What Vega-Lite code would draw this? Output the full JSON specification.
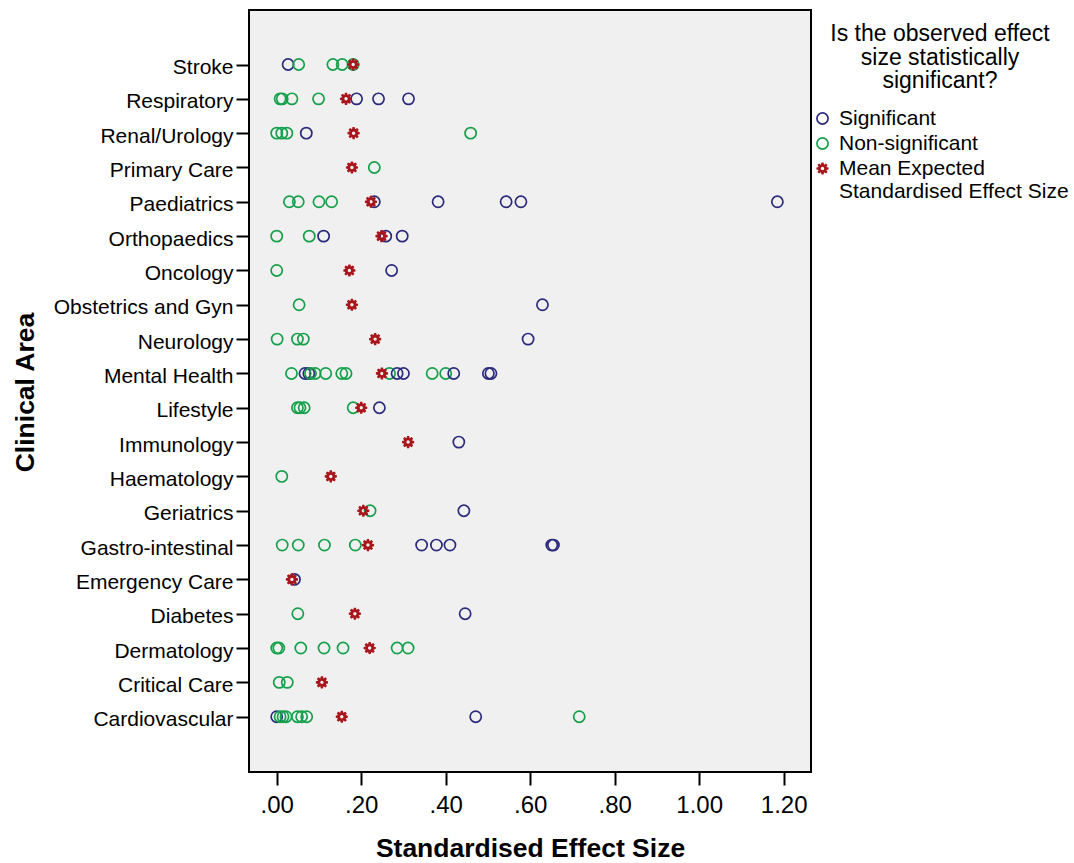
{
  "$schema": "https://vega.github.io/schema/vega-lite/v6.json",
  "width": 562,
  "height": 762,
  "autosize": "none",
  "padding": {"left": 249, "top": 10, "right": 263, "bottom": 91},
  "background": "white",
  "config": {
    "font": "Liberation Sans",
    "view": {"stroke": "#000000", "strokeWidth": 2, "fill": "#f0f0f0"},
    "axis": {
      "domain": false,
      "grid": false,
      "tickColor": "#000000",
      "tickWidth": 2,
      "tickSize": 13,
      "labelColor": "#000000",
      "labelFont": "Liberation Sans",
      "labelFontSize": 21,
      "titleFont": "Liberation Sans",
      "titleFontSize": 26.5,
      "titleFontWeight": "bold",
      "titleColor": "#000000"
    },
    "legend": {
      "titleFont": "Liberation Sans",
      "labelFont": "Liberation Sans"
    }
  },
  "data": {
    "values": [
      {"area": "Stroke", "effect": 0.027, "group": "Significant"},
      {"area": "Stroke", "effect": 0.052, "group": "Non-significant"},
      {"area": "Stroke", "effect": 0.133, "group": "Non-significant"},
      {"area": "Stroke", "effect": 0.155, "group": "Non-significant"},
      {"area": "Stroke", "effect": 0.181, "group": "Non-significant"},
      {"area": "Respiratory", "effect": 0.008, "group": "Non-significant"},
      {"area": "Respiratory", "effect": 0.013, "group": "Non-significant"},
      {"area": "Respiratory", "effect": 0.036, "group": "Non-significant"},
      {"area": "Respiratory", "effect": 0.099, "group": "Non-significant"},
      {"area": "Respiratory", "effect": 0.189, "group": "Significant"},
      {"area": "Respiratory", "effect": 0.241, "group": "Significant"},
      {"area": "Respiratory", "effect": 0.312, "group": "Significant"},
      {"area": "Renal/Urology", "effect": 0.0, "group": "Non-significant"},
      {"area": "Renal/Urology", "effect": 0.012, "group": "Non-significant"},
      {"area": "Renal/Urology", "effect": 0.024, "group": "Non-significant"},
      {"area": "Renal/Urology", "effect": 0.07, "group": "Significant"},
      {"area": "Renal/Urology", "effect": 0.459, "group": "Non-significant"},
      {"area": "Primary Care", "effect": 0.231, "group": "Non-significant"},
      {"area": "Paediatrics", "effect": 0.03, "group": "Non-significant"},
      {"area": "Paediatrics", "effect": 0.051, "group": "Non-significant"},
      {"area": "Paediatrics", "effect": 0.1, "group": "Non-significant"},
      {"area": "Paediatrics", "effect": 0.13, "group": "Non-significant"},
      {"area": "Paediatrics", "effect": 0.231, "group": "Significant"},
      {"area": "Paediatrics", "effect": 0.382, "group": "Significant"},
      {"area": "Paediatrics", "effect": 0.543, "group": "Significant"},
      {"area": "Paediatrics", "effect": 0.578, "group": "Significant"},
      {"area": "Paediatrics", "effect": 1.185, "group": "Significant"},
      {"area": "Orthopaedics", "effect": 0.0, "group": "Non-significant"},
      {"area": "Orthopaedics", "effect": 0.077, "group": "Non-significant"},
      {"area": "Orthopaedics", "effect": 0.111, "group": "Significant"},
      {"area": "Orthopaedics", "effect": 0.258, "group": "Significant"},
      {"area": "Orthopaedics", "effect": 0.297, "group": "Significant"},
      {"area": "Oncology", "effect": 0.0, "group": "Non-significant"},
      {"area": "Oncology", "effect": 0.272, "group": "Significant"},
      {"area": "Obstetrics and Gyn", "effect": 0.053, "group": "Non-significant"},
      {"area": "Obstetrics and Gyn", "effect": 0.629, "group": "Significant"},
      {"area": "Neurology", "effect": 0.001, "group": "Non-significant"},
      {"area": "Neurology", "effect": 0.049, "group": "Non-significant"},
      {"area": "Neurology", "effect": 0.063, "group": "Non-significant"},
      {"area": "Neurology", "effect": 0.595, "group": "Significant"},
      {"area": "Mental Health", "effect": 0.035, "group": "Non-significant"},
      {"area": "Mental Health", "effect": 0.067, "group": "Significant"},
      {"area": "Mental Health", "effect": 0.076, "group": "Significant"},
      {"area": "Mental Health", "effect": 0.08, "group": "Non-significant"},
      {"area": "Mental Health", "effect": 0.091, "group": "Non-significant"},
      {"area": "Mental Health", "effect": 0.116, "group": "Non-significant"},
      {"area": "Mental Health", "effect": 0.154, "group": "Non-significant"},
      {"area": "Mental Health", "effect": 0.164, "group": "Non-significant"},
      {"area": "Mental Health", "effect": 0.267, "group": "Non-significant"},
      {"area": "Mental Health", "effect": 0.285, "group": "Significant"},
      {"area": "Mental Health", "effect": 0.3, "group": "Significant"},
      {"area": "Mental Health", "effect": 0.368, "group": "Non-significant"},
      {"area": "Mental Health", "effect": 0.4, "group": "Non-significant"},
      {"area": "Mental Health", "effect": 0.419, "group": "Significant"},
      {"area": "Mental Health", "effect": 0.501, "group": "Significant"},
      {"area": "Mental Health", "effect": 0.507, "group": "Significant"},
      {"area": "Lifestyle", "effect": 0.049, "group": "Non-significant"},
      {"area": "Lifestyle", "effect": 0.055, "group": "Non-significant"},
      {"area": "Lifestyle", "effect": 0.065, "group": "Non-significant"},
      {"area": "Lifestyle", "effect": 0.181, "group": "Non-significant"},
      {"area": "Lifestyle", "effect": 0.243, "group": "Significant"},
      {"area": "Immunology", "effect": 0.431, "group": "Significant"},
      {"area": "Haematology", "effect": 0.012, "group": "Non-significant"},
      {"area": "Geriatrics", "effect": 0.221, "group": "Non-significant"},
      {"area": "Geriatrics", "effect": 0.443, "group": "Significant"},
      {"area": "Gastro-intestinal", "effect": 0.013, "group": "Non-significant"},
      {"area": "Gastro-intestinal", "effect": 0.051, "group": "Non-significant"},
      {"area": "Gastro-intestinal", "effect": 0.113, "group": "Non-significant"},
      {"area": "Gastro-intestinal", "effect": 0.186, "group": "Non-significant"},
      {"area": "Gastro-intestinal", "effect": 0.343, "group": "Significant"},
      {"area": "Gastro-intestinal", "effect": 0.378, "group": "Significant"},
      {"area": "Gastro-intestinal", "effect": 0.41, "group": "Significant"},
      {"area": "Gastro-intestinal", "effect": 0.651, "group": "Significant"},
      {"area": "Gastro-intestinal", "effect": 0.655, "group": "Significant"},
      {"area": "Emergency Care", "effect": 0.042, "group": "Significant"},
      {"area": "Diabetes", "effect": 0.05, "group": "Non-significant"},
      {"area": "Diabetes", "effect": 0.446, "group": "Significant"},
      {"area": "Dermatology", "effect": 0.0, "group": "Non-significant"},
      {"area": "Dermatology", "effect": 0.005, "group": "Non-significant"},
      {"area": "Dermatology", "effect": 0.057, "group": "Non-significant"},
      {"area": "Dermatology", "effect": 0.112, "group": "Non-significant"},
      {"area": "Dermatology", "effect": 0.157, "group": "Non-significant"},
      {"area": "Dermatology", "effect": 0.285, "group": "Non-significant"},
      {"area": "Dermatology", "effect": 0.311, "group": "Non-significant"},
      {"area": "Critical Care", "effect": 0.006, "group": "Non-significant"},
      {"area": "Critical Care", "effect": 0.025, "group": "Non-significant"},
      {"area": "Cardiovascular", "effect": 0.0, "group": "Significant"},
      {"area": "Cardiovascular", "effect": 0.008, "group": "Non-significant"},
      {"area": "Cardiovascular", "effect": 0.015, "group": "Non-significant"},
      {"area": "Cardiovascular", "effect": 0.022, "group": "Non-significant"},
      {"area": "Cardiovascular", "effect": 0.049, "group": "Non-significant"},
      {"area": "Cardiovascular", "effect": 0.059, "group": "Non-significant"},
      {"area": "Cardiovascular", "effect": 0.071, "group": "Non-significant"},
      {"area": "Cardiovascular", "effect": 0.471, "group": "Significant"},
      {"area": "Cardiovascular", "effect": 0.716, "group": "Non-significant"},
      {"area": "Stroke", "effect": 0.181, "group": "Mean Expected Standardised Effect Size"},
      {"area": "Respiratory", "effect": 0.164, "group": "Mean Expected Standardised Effect Size"},
      {"area": "Renal/Urology", "effect": 0.182, "group": "Mean Expected Standardised Effect Size"},
      {"area": "Primary Care", "effect": 0.178, "group": "Mean Expected Standardised Effect Size"},
      {"area": "Paediatrics", "effect": 0.223, "group": "Mean Expected Standardised Effect Size"},
      {"area": "Orthopaedics", "effect": 0.248, "group": "Mean Expected Standardised Effect Size"},
      {"area": "Oncology", "effect": 0.172, "group": "Mean Expected Standardised Effect Size"},
      {"area": "Obstetrics and Gyn", "effect": 0.178, "group": "Mean Expected Standardised Effect Size"},
      {"area": "Neurology", "effect": 0.233, "group": "Mean Expected Standardised Effect Size"},
      {"area": "Mental Health", "effect": 0.249, "group": "Mean Expected Standardised Effect Size"},
      {"area": "Lifestyle", "effect": 0.2, "group": "Mean Expected Standardised Effect Size"},
      {"area": "Immunology", "effect": 0.311, "group": "Mean Expected Standardised Effect Size"},
      {"area": "Haematology", "effect": 0.128, "group": "Mean Expected Standardised Effect Size"},
      {"area": "Geriatrics", "effect": 0.205, "group": "Mean Expected Standardised Effect Size"},
      {"area": "Gastro-intestinal", "effect": 0.216, "group": "Mean Expected Standardised Effect Size"},
      {"area": "Emergency Care", "effect": 0.036, "group": "Mean Expected Standardised Effect Size"},
      {"area": "Diabetes", "effect": 0.185, "group": "Mean Expected Standardised Effect Size"},
      {"area": "Dermatology", "effect": 0.22, "group": "Mean Expected Standardised Effect Size"},
      {"area": "Critical Care", "effect": 0.107, "group": "Mean Expected Standardised Effect Size"},
      {"area": "Cardiovascular", "effect": 0.154, "group": "Mean Expected Standardised Effect Size"}
    ]
  },
  "mark": {"type": "point", "size": 125, "strokeWidth": 1.7, "opacity": 1},
  "encoding": {
    "x": {
      "field": "effect",
      "type": "quantitative",
      "scale": {"domain": [-0.0656, 1.2646], "nice": false, "zero": false},
      "axis": {
        "values": [0, 0.2, 0.4, 0.6, 0.8, 1, 1.2],
        "labelExpr": "datum.value < 1 ? substring(format(datum.value, '.2f'), 1) : format(datum.value, '.2f')",
        "labelFontSize": 24,
        "labelPadding": 8,
        "title": "Standardised Effect Size",
        "titleY": 76,
        "titleBaseline": "middle"
      }
    },
    "y": {
      "field": "area",
      "type": "nominal",
      "sort": ["Stroke", "Respiratory", "Renal/Urology", "Primary Care", "Paediatrics", "Orthopaedics", "Oncology", "Obstetrics and Gyn", "Neurology", "Mental Health", "Lifestyle", "Immunology", "Haematology", "Geriatrics", "Gastro-intestinal", "Emergency Care", "Diabetes", "Dermatology", "Critical Care", "Cardiovascular"],
      "scale": {"type": "point", "padding": 0, "range": [54.5, 706.7]},
      "axis": {
        "title": "Clinical Area",
        "labelPadding": 3,
        "labelOffset": 3,
        "titleX": -224,
        "titleY": 382,
        "titleAngle": -90,
        "titleAlign": "center",
        "titleBaseline": "middle"
      }
    },
    "shape": {
      "field": "group",
      "type": "nominal",
      "scale": {
        "domain": ["Significant", "Non-significant", "Mean Expected Standardised Effect Size"],
        "range": ["circle", "circle", "M1.084,-0.191L1.084,0.191L0.691,0.286L0.901,0.631L0.631,0.901L0.286,0.691L0.191,1.084L-0.191,1.084L-0.286,0.691L-0.631,0.901L-0.901,0.631L-0.691,0.286L-1.084,0.191L-1.084,-0.191L-0.691,-0.286L-0.901,-0.631L-0.631,-0.901L-0.286,-0.691L-0.191,-1.084L0.191,-1.084L0.286,-0.691L0.631,-0.901L0.901,-0.631L0.691,-0.286ZM0.31,0L0.219,-0.219L0,-0.31L-0.219,-0.219L-0.31,0L-0.219,0.219L0,0.31L0.219,0.219Z"]
      },
      "legend": {
        "title": ["Is the observed effect", "size statistically", "significant?"],
        "orient": "none",
        "legendX": 563,
        "legendY": 13,
        "padding": 0,
        "titleFontSize": 23,
        "titleFontWeight": "normal",
        "titleColor": "#000000",
        "titleAnchor": "middle",
        "titleAlign": "center",
        "titleLineHeight": 23.5,
        "titleLimit": 400,
        "titlePadding": 15,
        "labelFontSize": 21,
        "labelColor": "#000000",
        "labelOffset": 6,
        "labelLimit": 400,
        "symbolSize": 125,
        "symbolStrokeWidth": 1.7,
        "rowPadding": 3,
        "labelExpr": "datum.label == 'Mean Expected Standardised Effect Size' ? ['Mean Expected', 'Standardised Effect Size'] : datum.label"
      }
    },
    "stroke": {
      "field": "group",
      "type": "nominal",
      "scale": {
        "domain": ["Significant", "Non-significant", "Mean Expected Standardised Effect Size"],
        "range": ["#2b2b7d", "#16a04c", "transparent"]
      },
      "legend": {
        "title": ["Is the observed effect", "size statistically", "significant?"],
        "orient": "none",
        "legendX": 563,
        "legendY": 13,
        "padding": 0,
        "titleFontSize": 23,
        "titleFontWeight": "normal",
        "titleColor": "#000000",
        "titleAnchor": "middle",
        "titleAlign": "center",
        "titleLineHeight": 23.5,
        "titleLimit": 400,
        "titlePadding": 15,
        "labelFontSize": 21,
        "labelColor": "#000000",
        "labelOffset": 6,
        "labelLimit": 400,
        "symbolSize": 125,
        "symbolStrokeWidth": 1.7,
        "rowPadding": 3,
        "labelExpr": "datum.label == 'Mean Expected Standardised Effect Size' ? ['Mean Expected', 'Standardised Effect Size'] : datum.label"
      }
    },
    "fill": {
      "field": "group",
      "type": "nominal",
      "scale": {
        "domain": ["Significant", "Non-significant", "Mean Expected Standardised Effect Size"],
        "range": ["transparent", "transparent", "#a8161c"]
      },
      "legend": {
        "title": ["Is the observed effect", "size statistically", "significant?"],
        "orient": "none",
        "legendX": 563,
        "legendY": 13,
        "padding": 0,
        "titleFontSize": 23,
        "titleFontWeight": "normal",
        "titleColor": "#000000",
        "titleAnchor": "middle",
        "titleAlign": "center",
        "titleLineHeight": 23.5,
        "titleLimit": 400,
        "titlePadding": 15,
        "labelFontSize": 21,
        "labelColor": "#000000",
        "labelOffset": 6,
        "labelLimit": 400,
        "symbolSize": 125,
        "symbolStrokeWidth": 1.7,
        "rowPadding": 3,
        "labelExpr": "datum.label == 'Mean Expected Standardised Effect Size' ? ['Mean Expected', 'Standardised Effect Size'] : datum.label"
      }
    }
  }
}
